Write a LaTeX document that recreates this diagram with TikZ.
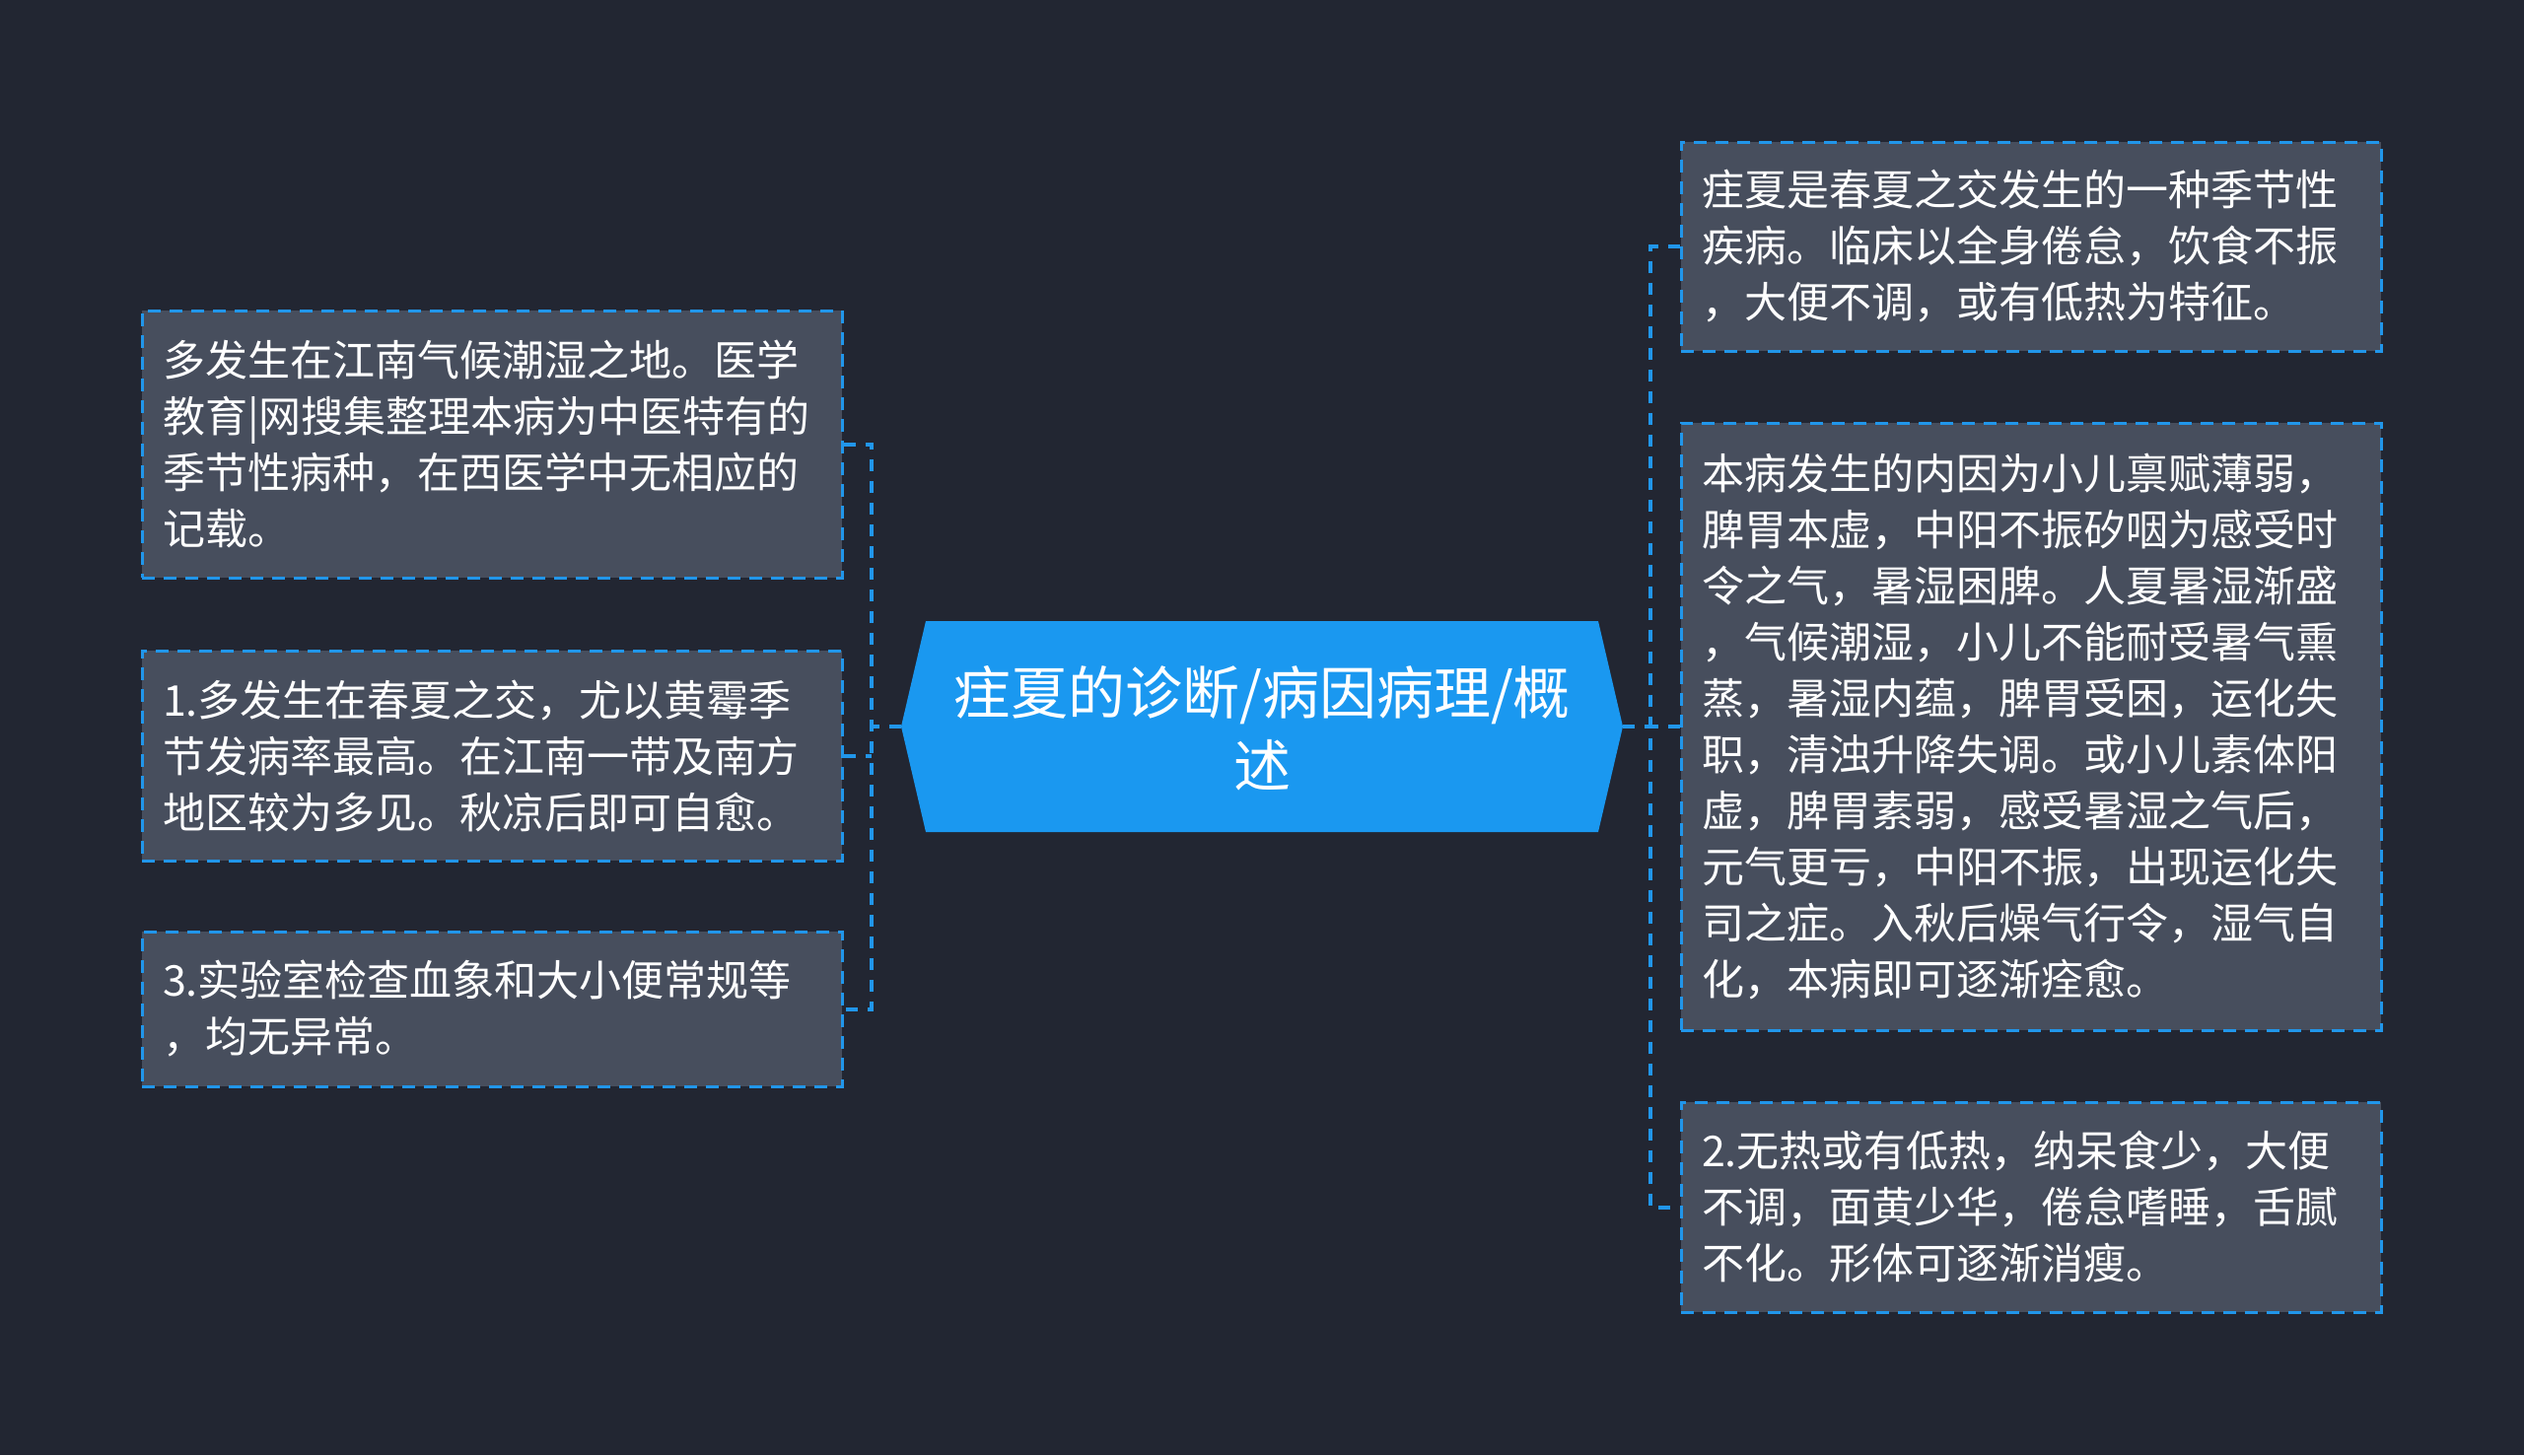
\documentclass[tikz,border=0pt]{standalone}
\usepackage{fontspec}
\newfontfamily\cjk{Noto Sans CJK SC}
\definecolor{bg}{HTML}{222632}
\definecolor{boxfill}{HTML}{474E5D}
\definecolor{lineblue}{HTML}{2196EA}
\definecolor{centerblue}{HTML}{1A98F0}
\begin{document}
\begin{tikzpicture}[x=1pt,y=-1pt,
  leaf/.style={draw=lineblue, line width=3pt, dash pattern=on 13pt off 9pt,
    fill=boxfill, text=white, font=\cjk\fontsize{43}{57}\selectfont,
    align=left, text width=668pt, minimum width=710pt, inner sep=0pt},
  conn/.style={draw=lineblue, line width=4pt, dash pattern=on 12pt off 10pt},
  title/.style={text=white, font=\cjk\fontsize{58}{74}\selectfont, align=center, inner sep=0pt}]
\fill[bg] (0,0) rectangle (2560,1476);
\useasboundingbox (0,0) rectangle (2560,1476);
% center shape
\coordinate (ctl) at (914,737);
\coordinate (ctr) at (1646,737);
\fill[centerblue] (ctl) -- (939,630) -- (1621,630) -- (ctr) -- (1621,844) -- (939,844) -- cycle;
\node[title] (c) at (1280,739) {疰夏的诊断/病因病理/概\\述};
% left boxes
\node[leaf, minimum height=271pt] (L1) at (499,450.5) {多发生在江南气候潮湿之地。医学\\教育|网搜集整理本病为中医特有的\\季节性病种，在西医学中无相应的\\记载。};
\node[leaf, minimum height=213pt] (L2) at (499,766.5) {1.多发生在春夏之交，尤以黄霉季\\节发病率最高。在江南一带及南方\\地区较为多见。秋凉后即可自愈。};
\node[leaf, minimum height=157pt] (L3) at (499,1023.5) {3.实验室检查血象和大小便常规等\\，均无异常。};
% right boxes
\node[leaf, minimum height=212pt] (R1) at (2060,250) {疰夏是春夏之交发生的一种季节性\\疾病。临床以全身倦怠，饮食不振\\，大便不调，或有低热为特征。};
\node[leaf, minimum height=616pt] (R2) at (2060,737) {本病发生的内因为小儿禀赋薄弱，\\脾胃本虚，中阳不振矽咽为感受时\\令之气，暑湿困脾。人夏暑湿渐盛\\，气候潮湿，小儿不能耐受暑气熏\\蒸，暑湿内蕴，脾胃受困，运化失\\职，清浊升降失调。或小儿素体阳\\虚，脾胃素弱，感受暑湿之气后，\\元气更亏，中阳不振，出现运化失\\司之症。入秋后燥气行令，湿气自\\化，本病即可逐渐痊愈。};
\node[leaf, minimum height=213pt] (R3) at (2060,1224.5) {2.无热或有低热，纳呆食少，大便\\不调，面黄少华，倦怠嗜睡，舌腻\\不化。形体可逐渐消瘦。};
% connectors
\coordinate (lbus) at (884,737);
\coordinate (rbus) at (1674,737);
\draw[conn] (ctl) -- (lbus);
\draw[conn] (L1.east) -- (L1.east -| lbus) -- (L3.east -| lbus) -- (L3.east);
\draw[conn] (L2.east) -- (L2.east -| lbus);
\draw[conn] (ctr) -- (rbus);
\draw[conn] (R1.west) -- (R1.west -| rbus) -- (R3.west -| rbus) -- (R3.west);
\draw[conn] (R2.west) -- (rbus);
\end{tikzpicture}
\end{document}
